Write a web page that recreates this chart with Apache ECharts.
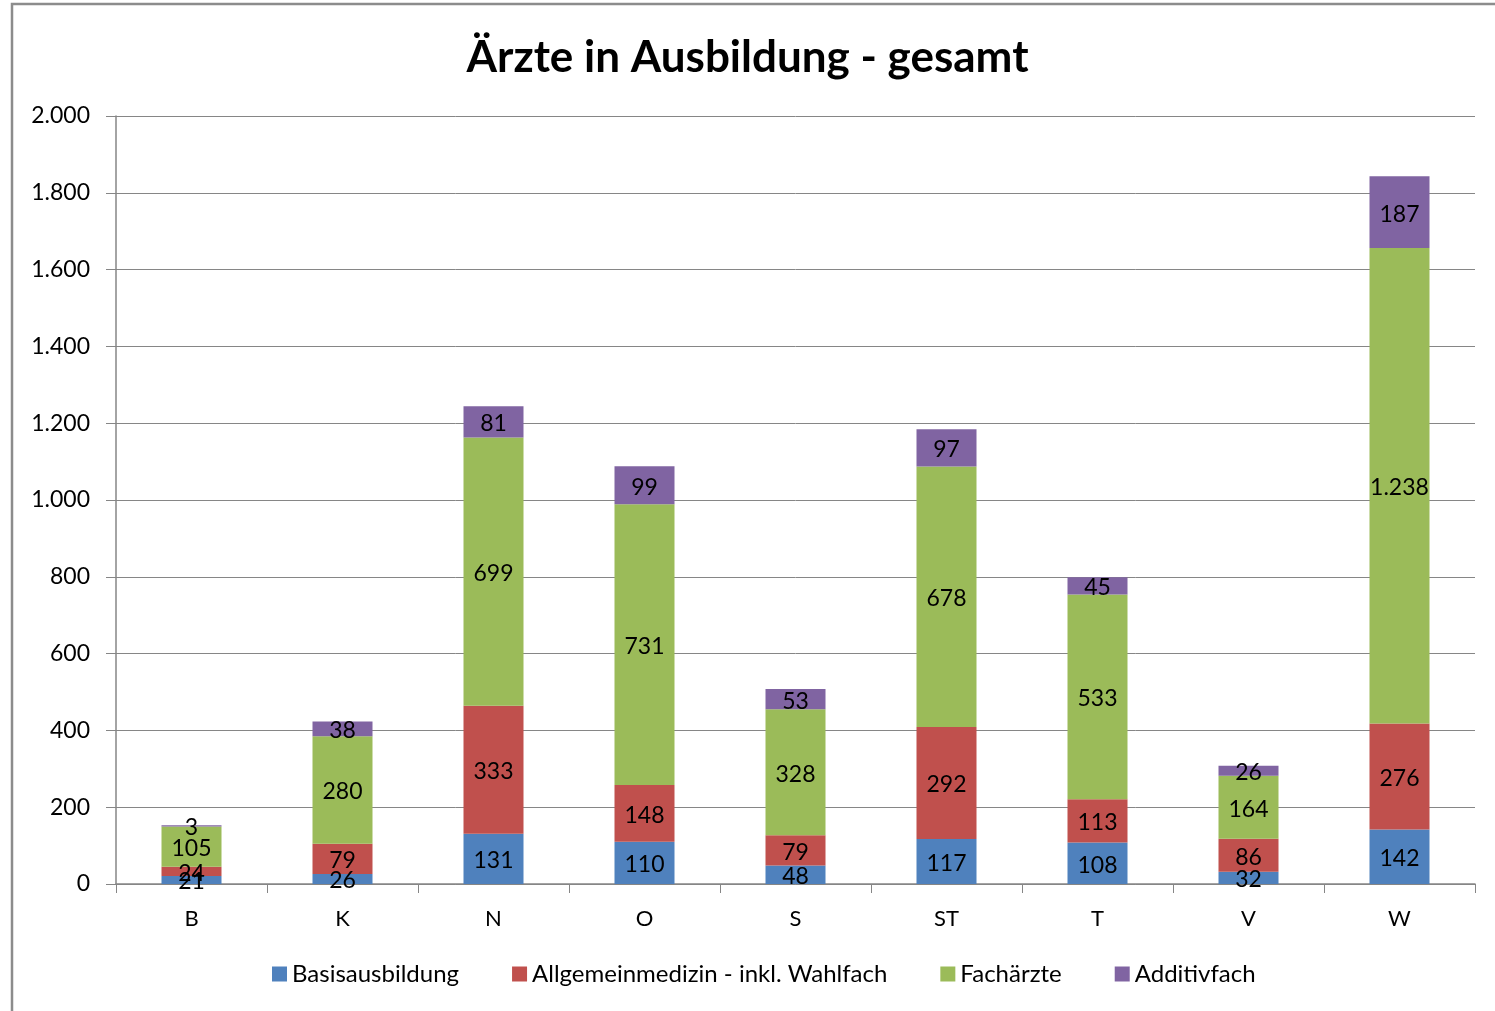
<!DOCTYPE html>
<html><head><meta charset="utf-8">
<script src="https://cdn.jsdelivr.net/npm/echarts@6/dist/echarts.min.js"></script>
<style>html,body{margin:0;padding:0;background:#fff}#c{width:1495px;height:1011px}</style>
</head><body><div id="c"></div>
<script>
const categories = ['B','K','N','O','S','ST','T','V','W'];
const basis = [21,26,131,110,48,117,108,32,142];
const allgemein = [24,79,333,148,79,292,113,86,276];
const fachaerzte = [105,280,699,731,328,678,533,164,1238];
const additiv = [3,38,81,99,53,97,45,26,187];
const seriesNames = ['Basisausbildung','Allgemeinmedizin - inkl. Wahlfach','Fachärzte','Additivfach'];
const colors = ['#4F81BD','#C0504D','#9BBB59','#8064A2'];
const FONT = 'Lato, "Open Sans", sans-serif';
function de(v){return String(v).replace(/\B(?=(\d{3})+(?!\d))/g,'.');}
const chart = echarts.init(document.getElementById('c'));
const mk = (name, data, i) => ({
  name, type:'bar', stack:'total', data, barWidth:60,
  itemStyle:{color:colors[i]},
  label:{show:true, position:'inside', offset:[0,2], color:'#000', fontSize:23, fontFamily:FONT, formatter:p=>de(p.value)}
});
chart.setOption({
  animation:false,
  title:{text:'Ärzte in Ausbildung - gesamt', left:'center', top:31,
    textStyle:{fontSize:44, fontWeight:'bold', color:'#000', fontFamily:FONT}},
  grid:{left:116, right:20, top:116, bottom:127},
  legend:{bottom:20, left:267, itemWidth:15, itemHeight:15, itemGap:53,
    icon:'rect', textStyle:{fontSize:24, color:'#000', fontFamily:FONT}},
  xAxis:{type:'category', data:categories,
    axisLine:{lineStyle:{color:'#868686', width:1.5}},
    axisTick:{show:true, length:9, lineStyle:{color:'#868686'}},
    axisLabel:{fontSize:22, color:'#000', margin:24, fontFamily:FONT}},
  yAxis:{type:'value', min:0, max:2000, interval:200,
    axisLine:{show:true, lineStyle:{color:'#868686', width:1.5}},
    axisTick:{show:true, length:10, lineStyle:{color:'#868686'}},
    splitLine:{lineStyle:{color:'#868686', width:1}},
    axisLabel:{fontSize:23, color:'#000', margin:26, fontFamily:FONT, formatter:v=>de(v)}},
  graphic:[{type:'rect', shape:{x:12, y:4, width:1500, height:1020},
    style:{fill:'none', stroke:'#8c8c8c', lineWidth:2.5}, silent:true}],
  series:[mk(seriesNames[0],basis,0),mk(seriesNames[1],allgemein,1),mk(seriesNames[2],fachaerzte,2),mk(seriesNames[3],additiv,3)]
});
</script></body></html>
